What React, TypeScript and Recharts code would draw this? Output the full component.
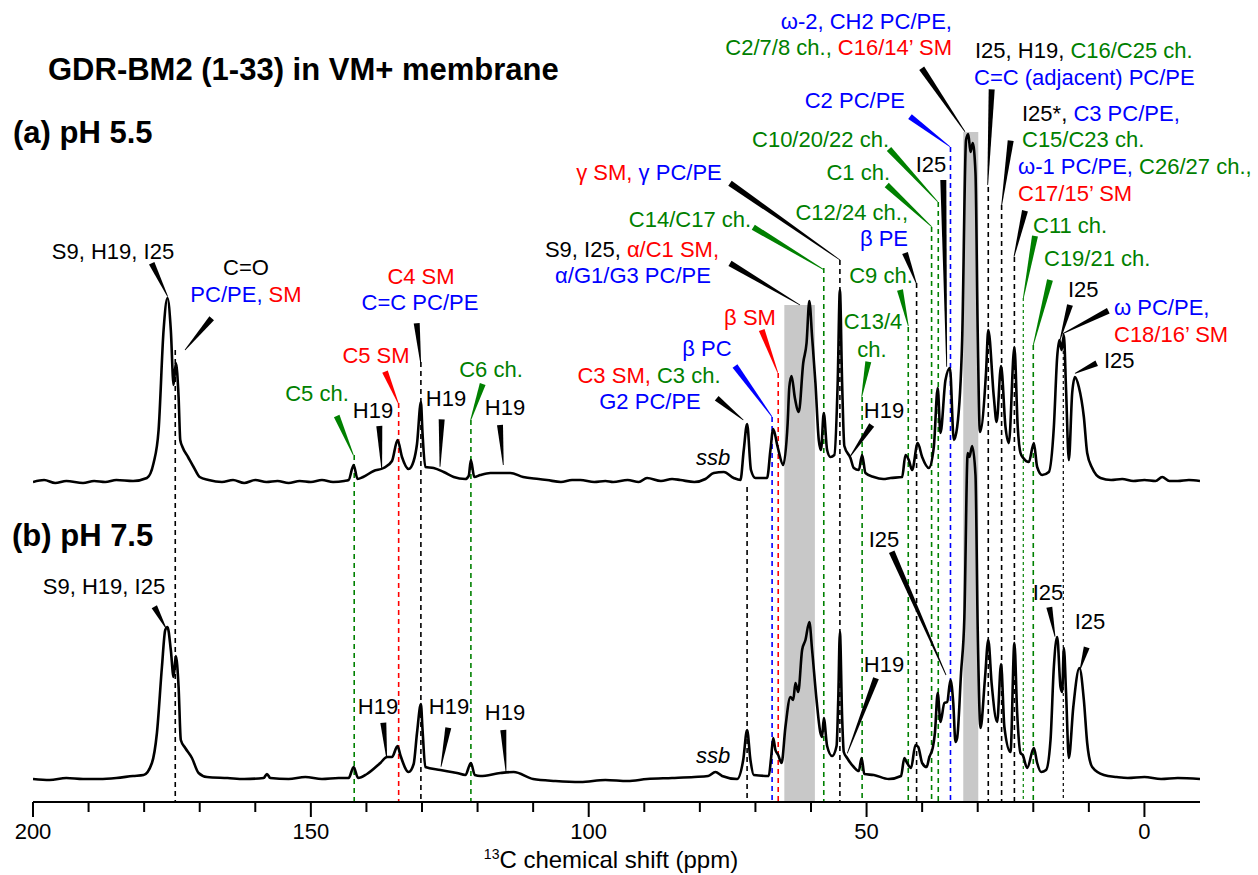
import React from "react";
import { LineChart, Line, XAxis, YAxis, ReferenceLine, ReferenceArea } from "recharts";

// chemical shift (ppm) and intensity above baseline, spectrum (a) pH 5.5
const PPM_A = [200, 198, 196, 194, 191, 189, 187, 185, 182, 179.5, 178.3, 177.4, 176.5, 175.8, 175.2, 174.7, 174.3, 173.8, 173.5, 173.1, 172.1, 171.1, 170, 168.4, 166, 164, 162, 160, 158, 156, 154, 152, 150, 148, 146, 144, 143.2, 142.3, 141.6, 140.6, 138.7, 136.9, 135.4, 134.4, 133.6, 132.4, 131.5, 130.9, 130.2, 129.9, 129.4, 127.9, 126.1, 124.3, 122.2, 121.6, 121.2, 120.6, 119.5, 117.7, 114.1, 111.8, 109, 107.5, 105, 103, 101.5, 99, 97, 95.6, 93, 91, 89.5, 87, 85, 83.5, 81, 79, 77.5, 75.7, 73.9, 72.7, 72.1, 71.5, 70.8, 70, 67.9, 67.3, 66.8, 66, 65, 64.2, 63.9, 63.5, 62.9, 62.2, 61.4, 60.8, 60.3, 59.8, 59.2, 58.6, 58.2, 57.7, 57.1, 56.5, 55.8, 55.2, 54.8, 54.4, 54, 52.9, 52.3, 51.4, 50.8, 50.2, 48.7, 47, 45.7, 43.6, 43, 42.4, 41.8, 40.8, 40, 38.8, 37.9, 37.2, 36.7, 35.8, 35, 34.3, 33.7, 32.8, 32.1, 31.7, 31.3, 30.9, 30.4, 30, 29.6, 28.5, 28.1, 27.1, 26.6, 25.8, 25, 24.4, 23.4, 22.8, 22.3, 21.8, 20.8, 19.9, 19.3, 18.4, 17.2, 16.3, 15.7, 15.3, 14.9, 14.5, 14.1, 13.6, 13, 12.5, 11.8, 10.9, 10.3, 9.4, 7.9, 6, 4, 2, 0, -2, -3.2, -4.5, -6, -8, -10];
const INT_A = [0, 2, -1, 1, -1, 1, 0, 2, 1, 4, 19, 52, 152, 184, 152, 97, 119, 85, 42, 35, 25, 15, 5, 2, 0, 2, -1, 2, 0, 1, -1, 1, 0, 2, 0, 1, 2, 17, 3, 5, 11, 14, 21, 42, 25, 13, 21, 38, 80, 48, 15, 14, 10, 5, 3, 6, 22, 5, 7, 9, 9, 5, 3, 2, 0, 2, 2, 0, 1, 0, 2, 0, 4, 1, 3, 2, 0, 3, 9, 10, 4, 2, 32, 58, 12, 4, 4, 32, 53, 35, 17, 59, 95, 106, 84, 70, 119, 139, 181, 145, 99, 42, 32, 69, 32, 25, 27, 99, 192, 99, 36, 24, 14, 12, 27, 9, 5, 3, 4, 5, 27, 22, 12, 39, 25, 14, 35, 94, 49, 102, 114, 42, 55, 142, 342, 348, 330, 339, 309, 150, 50, 110, 152, 85, 60, 116, 55, 39, 135, 55, 29, 24, 20, 39, 15, 7, 10, 55, 125, 142, 132, 147, 92, 22, 89, 105, 95, 65, 29, 14, 4, 2, 3, 1, 2, 1, 5, 1, 1, 2, 1];

// spectrum (b) pH 7.5
const PPM_B = [200, 197, 194, 191, 188, 185, 182, 180.1, 178.6, 177.7, 176.8, 176.2, 175.8, 175.2, 174.7, 174.3, 173.8, 173.4, 172.6, 171.4, 170.2, 168.7, 165, 162, 158.5, 157.9, 157.3, 154, 151, 148, 145, 143.2, 142.3, 141.5, 139.9, 137.5, 136.3, 135.4, 134.4, 133.9, 132.4, 131.5, 130.9, 130.2, 129.9, 129.4, 126.7, 123.7, 122.2, 121.2, 120.5, 119.5, 115.9, 113.5, 110, 106, 101.5, 97, 93, 89.5, 85, 81, 78.5, 77.2, 76, 73.3, 72.2, 71.5, 70.9, 70.3, 67.6, 67.2, 66.8, 66.4, 65.9, 65.3, 64.6, 63.7, 63.2, 62.8, 62.3, 61.6, 61, 60.3, 59.8, 59, 58.3, 58, 57.7, 57.1, 56.2, 55.4, 55.1, 54.8, 54.4, 54.1, 53.5, 52.3, 51.4, 50.9, 50.4, 48.7, 46, 43.8, 43.2, 42.8, 42, 41.2, 40.7, 40, 39.2, 38.7, 38.1, 37.7, 37.2, 36.7, 36, 35.5, 34.9, 34.4, 34, 33.7, 33, 32.4, 31.8, 31.5, 31, 30.4, 30, 29.5, 28.7, 28.1, 27.5, 26.5, 25.8, 25.2, 24.1, 23.4, 22.9, 22.3, 21.9, 21.1, 19.9, 19.3, 18.6, 17.7, 16.9, 16.3, 15.7, 15.1, 14.8, 14.5, 14.1, 13.6, 12.8, 11.7, 10.9, 10.3, 9.4, 7.3, 5, 3, 0, -3, -6, -10];
const INT_B = [0, -1, 1, 0, 0, 1, 3, 4, 16, 46, 112, 149, 152, 129, 102, 123, 92, 39, 31, 21, 6, 2, 1, 0, 1, 5, 1, 0, 2, 0, 1, 1, 12, 1, 5, 16, 22, 22, 33, 24, 7, 15, 46, 75, 49, 12, 9, 6, 4, 16, 4, 3, 6, 7, 0, -2, -3, -1, -2, 0, 1, 2, 3, 7, 3, 0, 19, 49, 19, 4, 3, 20, 41, 29, 24, 16, 52, 82, 79, 96, 87, 129, 139, 157, 129, 79, 46, 42, 61, 33, 23, 33, 79, 147, 62, 27, 21, 12, 8, 21, 5, 4, 0, 3, 21, 17, 11, 34, 32, 16, 12, 22, 31, 46, 86, 57, 76, 77, 99, 76, 37, 41, 106, 162, 326, 322, 333, 304, 150, 51, 100, 139, 96, 57, 115, 52, 27, 136, 66, 26, 24, 11, 31, 16, 7, 9, 39, 112, 142, 92, 87, 131, 86, 21, 72, 111, 79, 36, 12, 4, 2, 1, 2, 0, 1, 0];

const OFFSET_A = 320;
const OFFSET_B = 23;

const X_TICKS = [200, 190, 180, 170, 160, 150, 140, 130, 120, 110, 100, 90, 80, 70, 60, 50, 40, 30, 20, 10, 0];

const K = "#000000";
const G = "#008000";
const R = "#ff0000";
const B = "#0000ff";

// assignment lines: ppm, top (y value), colour, fine dots
const VLINES: [number, number, string, boolean][] = [
  [174.4, 452, K, false], [142.2, 347, G, false], [134.2, 399, R, false], [130.2, 440, K, false],
  [121.2, 382, G, false], [71.5, 315, K, false], [67.0, 385, B, false], [65.9, 429, R, false],
  [57.7, 534, G, false], [54.8, 542, K, false], [50.8, 405, G, false], [42.5, 475, G, false],
  [41.0, 519, K, false], [38.3, 575, G, false], [37.1, 600, G, false], [34.9, 655, B, false],
  [28.1, 615, K, false], [25.7, 597, K, false], [23.4, 545, K, false], [21.8, 504, G, true],
  [20.0, 457, G, false], [14.6, 469, K, true],
];

const BANDS: [number, number, number][] = [[64.8, 59.3, 497], [32.6, 29.9, 670]];

type Part = [string, string];
type Label = { x: number; y: number; a: "start" | "middle" | "end"; p: Part[]; it?: boolean };

const LABELS: Label[] = [
  { x: 113, y: 259, a: "middle", p: [["S9, H19, I25", K]] },
  { x: 246, y: 275, a: "middle", p: [["C=O", K]] },
  { x: 246, y: 302, a: "middle", p: [["PC/PE,", B], [" SM", R]] },
  { x: 421, y: 284, a: "middle", p: [["C4 SM", R]] },
  { x: 420, y: 310, a: "middle", p: [["C=C PC/PE", B]] },
  { x: 376, y: 363, a: "middle", p: [["C5 SM", R]] },
  { x: 317, y: 401, a: "middle", p: [["C5 ch.", G]] },
  { x: 373, y: 418, a: "middle", p: [["H19", K]] },
  { x: 446, y: 406, a: "middle", p: [["H19", K]] },
  { x: 491, y: 377, a: "middle", p: [["C6 ch.", G]] },
  { x: 505, y: 415, a: "middle", p: [["H19", K]] },
  { x: 713, y: 465, a: "middle", p: [["ssb", K]], it: true },
  { x: 649, y: 383, a: "middle", p: [["C3 SM,", R], [" C3 ch.", G]] },
  { x: 650, y: 409, a: "middle", p: [["G2 PC/PE", B]] },
  { x: 707, y: 356, a: "middle", p: [["β PC", B]] },
  { x: 750, y: 325, a: "middle", p: [["β SM", R]] },
  { x: 632, y: 257, a: "middle", p: [["S9, I25,", K], [" α/C1 SM,", R]] },
  { x: 633, y: 283, a: "middle", p: [["α/G1/G3 PC/PE", B]] },
  { x: 690, y: 227, a: "middle", p: [["C14/C17 ch.", G]] },
  { x: 649, y: 180, a: "middle", p: [["γ SM,", R], [" γ PC/PE", B]] },
  { x: 890, y: 180, a: "end", p: [["C1 ch.", G]] },
  { x: 889, y: 147, a: "end", p: [["C10/20/22 ch.", G]] },
  { x: 908, y: 220, a: "end", p: [["C12/24 ch.,", G]] },
  { x: 908, y: 246, a: "end", p: [["β PE", B]] },
  { x: 881, y: 283, a: "middle", p: [["C9 ch.", G]] },
  { x: 873, y: 329, a: "middle", p: [["C13/4", G]] },
  { x: 872, y: 357, a: "middle", p: [["ch.", G]] },
  { x: 884, y: 418, a: "middle", p: [["H19", K]] },
  { x: 931, y: 172, a: "middle", p: [["I25", K]] },
  { x: 905, y: 108, a: "end", p: [["C2 PC/PE", B]] },
  { x: 952, y: 29, a: "end", p: [["ω-2, CH2 PC/PE,", B]] },
  { x: 952, y: 55, a: "end", p: [["C2/7/8 ch.,", G], [" C16/14’ SM", R]] },
  { x: 975, y: 58, a: "start", p: [["I25, H19,", K], [" C16/C25 ch.", G]] },
  { x: 974, y: 85, a: "start", p: [["C=C (adjacent) PC/PE", B]] },
  { x: 1022, y: 121, a: "start", p: [["I25*,", K], [" C3 PC/PE,", B]] },
  { x: 1022, y: 147, a: "start", p: [["C15/C23 ch.", G]] },
  { x: 1018, y: 174, a: "start", p: [["ω-1 PC/PE,", B], [" C26/27 ch.,", G]] },
  { x: 1018, y: 201, a: "start", p: [["C17/15’ SM", R]] },
  { x: 1033, y: 233, a: "start", p: [["C11 ch.", G]] },
  { x: 1044, y: 266, a: "start", p: [["C19/21 ch.", G]] },
  { x: 1068, y: 297, a: "start", p: [["I25", K]] },
  { x: 1114, y: 315, a: "start", p: [["ω PC/PE,", B]] },
  { x: 1114, y: 342, a: "start", p: [["C18/16’ SM", R]] },
  { x: 1104, y: 368, a: "start", p: [["I25", K]] },
  { x: 104, y: 594, a: "middle", p: [["S9, H19, I25", K]] },
  { x: 378, y: 714, a: "middle", p: [["H19", K]] },
  { x: 449, y: 714, a: "middle", p: [["H19", K]] },
  { x: 505, y: 720, a: "middle", p: [["H19", K]] },
  { x: 713, y: 763, a: "middle", p: [["ssb", K]], it: true },
  { x: 884, y: 547, a: "middle", p: [["I25", K]] },
  { x: 884, y: 672, a: "middle", p: [["H19", K]] },
  { x: 1048, y: 600, a: "middle", p: [["I25", K]] },
  { x: 1090, y: 629, a: "middle", p: [["I25", K]] },
];

// pointer wedges: thick end (label) -> thin end (peak)
const POINTERS: [number, number, number, number, string][] = [
  [151.7, 263.3, 167.7, 296.7, K], [211.7, 318.3, 185, 350, K], [416.7, 323.3, 420.7, 363.3, K],
  [385, 371.7, 398.3, 403.3, R], [336.7, 416, 353.3, 455, G], [379.3, 426, 381.7, 468.3, K],
  [441.7, 419.3, 440, 466.7, K], [482.7, 384, 470.7, 420, G], [500, 425, 503.3, 465, K],
  [716.7, 398.3, 743.3, 420, K], [735, 366, 772, 416.7, B], [761.7, 330, 777.7, 372.7, R],
  [730, 263.3, 800, 305, K], [753.3, 227.3, 823.3, 269.3, G], [730, 183.3, 840, 260, K],
  [886.7, 185, 931.7, 226.7, G], [889, 149, 937.7, 201.7, G], [905, 253, 916.3, 283.3, K],
  [900, 290, 908.3, 326, G], [868.3, 361.7, 861.7, 396.7, G], [871.7, 425, 850, 456.7, K],
  [943.3, 180, 946.7, 366.7, K], [910, 116.7, 950, 146.7, B], [921.7, 68.3, 965, 131.7, K],
  [991.7, 89.3, 987.7, 185, K], [1010.7, 140.7, 1001.7, 205, K], [1025, 210.7, 1014, 256.7, K],
  [1035, 236, 1023.3, 298.3, G], [1050, 280, 1033.3, 345, G], [1070, 305, 1060, 340, K],
  [1108.3, 310.7, 1063.3, 333.3, K], [1096.7, 363.3, 1075, 373.3, K],
  [154.3, 606.7, 166, 628.3, K], [383.3, 722.7, 386.7, 758.3, K], [448.3, 727.7, 441, 766.7, K],
  [503.3, 730, 506, 771.7, K], [891.7, 551.7, 946, 675, K], [876, 678.3, 847.3, 753.3, K],
  [1049.3, 607.3, 1055, 636.7, K], [1086.7, 647.3, 1080, 670, K],
];

const dataA = PPM_A.map((ppm, i) => ({ ppm, v: INT_A[i] + OFFSET_A }));
const dataB = PPM_B.map((ppm, i) => ({ ppm, v: INT_B[i] + OFFSET_B }));

const SANS = "'Liberation Sans', Arial, sans-serif";

function ShiftTick(props: any) {
  const { x, y, payload } = props;
  const major = payload.value % 50 === 0;
  return (
    <g>
      <line x1={x} x2={x} y1={y} y2={y + (major ? 15 : 10)} stroke="#000" strokeWidth={2} />
      {major && (
        <text x={x} y={y + 37} textAnchor="middle" fontSize={22} fontFamily={SANS} fill="#000">
          {payload.value}
        </text>
      )}
    </g>
  );
}

function wedge(x1: number, y1: number, x2: number, y2: number, w1 = 6, w2 = 0.8) {
  const dx = x2 - x1;
  const dy = y2 - y1;
  const len = Math.hypot(dx, dy);
  const nx = -dy / len;
  const ny = dx / len;
  return [
    [x1 + (nx * w1) / 2, y1 + (ny * w1) / 2],
    [x2 + (nx * w2) / 2, y2 + (ny * w2) / 2],
    [x2 - (nx * w2) / 2, y2 - (ny * w2) / 2],
    [x1 - (nx * w1) / 2, y1 - (ny * w1) / 2],
  ]
    .map((p) => p.join(","))
    .join(" ");
}

export default function App() {
  return (
    <div style={{ position: "absolute", left: 0, top: 0, width: 1258, height: 875, background: "#fff" }}>
      <LineChart width={1258} height={875} margin={{ top: 0, right: 58, left: 33, bottom: 33 }}>
        <XAxis
          dataKey="ppm"
          type="number"
          domain={[-10, 200]}
          reversed
          ticks={X_TICKS}
          interval={0}
          tick={<ShiftTick />}
          tickLine={false}
          tickSize={0}
          tickMargin={0}
          height={40}
          axisLine={{ stroke: "#000", strokeWidth: 2 }}
          allowDataOverflow
        />
        <YAxis hide type="number" domain={[0, 802]} allowDataOverflow />
        {BANDS.map(([x1, x2, top], i) => (
          <ReferenceArea key={"b" + i} x1={x1} x2={x2} y1={0} y2={top} fill="#c8c8c8" fillOpacity={1} stroke="none" />
        ))}
        {VLINES.map(([ppm, top, color, fine], i) => (
          <ReferenceLine
            key={"v" + i}
            segment={[{ x: ppm, y: top }, { x: ppm, y: 0 }]}
            stroke={color}
            strokeWidth={fine ? 1.2 : 1.6}
            strokeDasharray={fine ? "3 3" : "5 4"}
          />
        ))}
        <Line data={dataA} dataKey="v" type="monotone" stroke="#000" strokeWidth={2.6} dot={false} isAnimationActive={false} />
        <Line data={dataB} dataKey="v" type="monotone" stroke="#000" strokeWidth={2.6} dot={false} isAnimationActive={false} />
      </LineChart>
      <svg width={1258} height={875} style={{ position: "absolute", left: 0, top: 0, pointerEvents: "none" }}>
        {POINTERS.map(([x1, y1, x2, y2, c], i) => (
          <polygon key={"p" + i} points={wedge(x1, y1, x2, y2)} fill={c} />
        ))}
        {LABELS.map((l, i) => (
          <text key={"l" + i} x={l.x} y={l.y} textAnchor={l.a} fontSize={22} fontFamily={SANS} fontStyle={l.it ? "italic" : "normal"}>
            {l.p.map(([t, c], j) => (
              <tspan key={j} fill={c} style={{ whiteSpace: "pre" }}>
                {t}
              </tspan>
            ))}
          </text>
        ))}
        <text x={48} y={80} fontSize={31} fontWeight="bold" fontFamily={SANS}>GDR-BM2 (1-33) in VM+ membrane</text>
        <text x={13} y={143} fontSize={31} fontWeight="bold" fontFamily={SANS}>(a) pH 5.5</text>
        <text x={12} y={546} fontSize={31} fontWeight="bold" fontFamily={SANS}>(b) pH 7.5</text>
        <text x={611} y={868} textAnchor="middle" fontFamily={SANS} fontSize={24}>
          <tspan fontSize={14} dy={-9}>13</tspan>
          <tspan dy={9}>C chemical shift (ppm)</tspan>
        </text>
      </svg>
    </div>
  );
}
